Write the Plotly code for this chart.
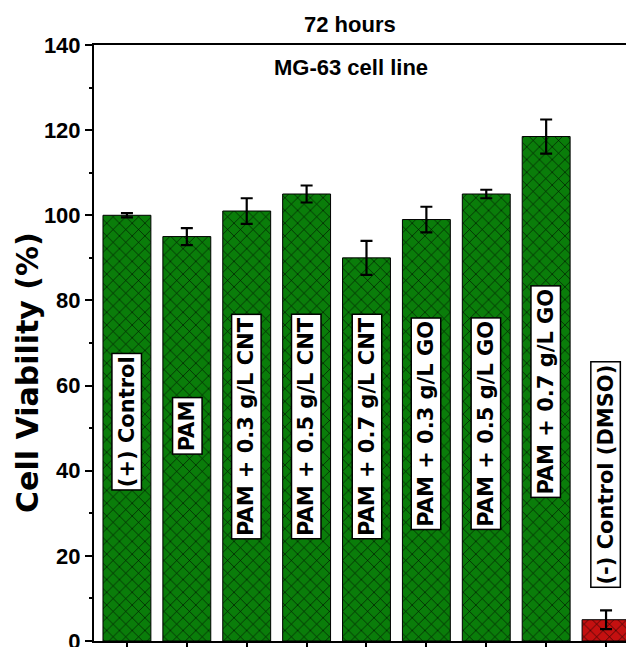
import plotly.graph_objects as go

categories = ["(+) Control", "PAM", "PAM + 0.3 g/L CNT", "PAM + 0.5 g/L CNT",
              "PAM + 0.7 g/L CNT", "PAM + 0.3 g/L GO", "PAM + 0.5 g/L GO",
              "PAM + 0.7 g/L GO", "(-) Control (DMSO)"]
viability = [100, 95, 101, 105, 90, 99, 105, 118.5, 5]
errors = [0.5, 2, 3, 2, 4, 3, 1, 4, 2.2]
label_y = [51.5, 50.5, 50.3, 50.3, 50.5, 51, 51, 58.5, 39]
group_color = {"treatment": "#0a7d0a", "negative": "#c41010"}
groups = ["treatment"] * 8 + ["negative"]
y_ticks = [0, 20, 40, 60, 80, 100, 120, 140]

xpos = list(range(len(categories)))

fig = go.Figure()
for g, col in group_color.items():
    idx = [i for i, gg in enumerate(groups) if gg == g]
    fig.add_trace(go.Bar(
        x=[xpos[i] for i in idx], y=[viability[i] for i in idx], width=0.8,
        marker=dict(color=col, line=dict(color="black", width=1),
                    pattern=dict(shape="x", fillmode="replace", fgcolor="rgb(0,0,0)",
                                 bgcolor=col, fgopacity=1, size=9, solidity=0.12)),
        error_y=dict(type="data", array=[errors[i] for i in idx], visible=True,
                     color="black", thickness=2.2, width=6),
        showlegend=False, hoverinfo="skip",
    ))

arialb = "Liberation Sans, Arial, sans-serif"

for i, (cat, ly) in enumerate(zip(categories, label_y)):
    fig.add_annotation(x=i, y=ly, xref="x", yref="y", text=cat, textangle=-90,
                       showarrow=False, bgcolor="white", bordercolor="black",
                       borderwidth=1.5, borderpad=2,
                       font=dict(family="DejaVu Sans", size=21, color="black", weight="bold"))

fig.add_annotation(x=0.475, y=1.0345, xref="paper", yref="paper", yanchor="middle",
                   text="72 hours", showarrow=False,
                   font=dict(family=arialb, size=22, color="black", weight="bold"))
fig.add_annotation(x=0.477, y=0.962, xref="paper", yref="paper", yanchor="middle",
                   text="MG-63 cell line", showarrow=False,
                   font=dict(family=arialb, size=22, color="black", weight="bold"))
fig.add_annotation(x=-0.123, y=0.451, xref="paper", yref="paper", xanchor="center",
                   yanchor="middle", textangle=-90, text="Cell Viability (%)",
                   showarrow=False,
                   font=dict(family="DejaVu Sans", size=30, color="black", weight="bold"))

fig.update_layout(
    width=634, height=647,
    margin=dict(l=86, r=9, t=37, b=14),
    plot_bgcolor="white", paper_bgcolor="white",
    barmode="overlay",
)
fig.update_xaxes(range=[-0.55, 8.45], tickvals=xpos, ticktext=[""] * len(xpos),
                 ticks="outside", ticklen=7, tickwidth=1.5, tickcolor="black",
                 showline=True, linewidth=2, linecolor="black", mirror=True,
                 showgrid=False, zeroline=False, automargin=False)
fig.update_yaxes(range=[0, 140], tickvals=y_ticks, ticks="outside", ticklen=7,
                 tickwidth=2, tickcolor="black",
                 minor=dict(dtick=10, ticks="outside", ticklen=3, tickwidth=1.5, tickcolor="black"),
                 showline=True, linewidth=2, linecolor="black", mirror=True,
                 showgrid=False, zeroline=False, automargin=False,
                 tickfont=dict(family=arialb, size=22, color="black", weight="bold"))

fig.write_html("out.html")
